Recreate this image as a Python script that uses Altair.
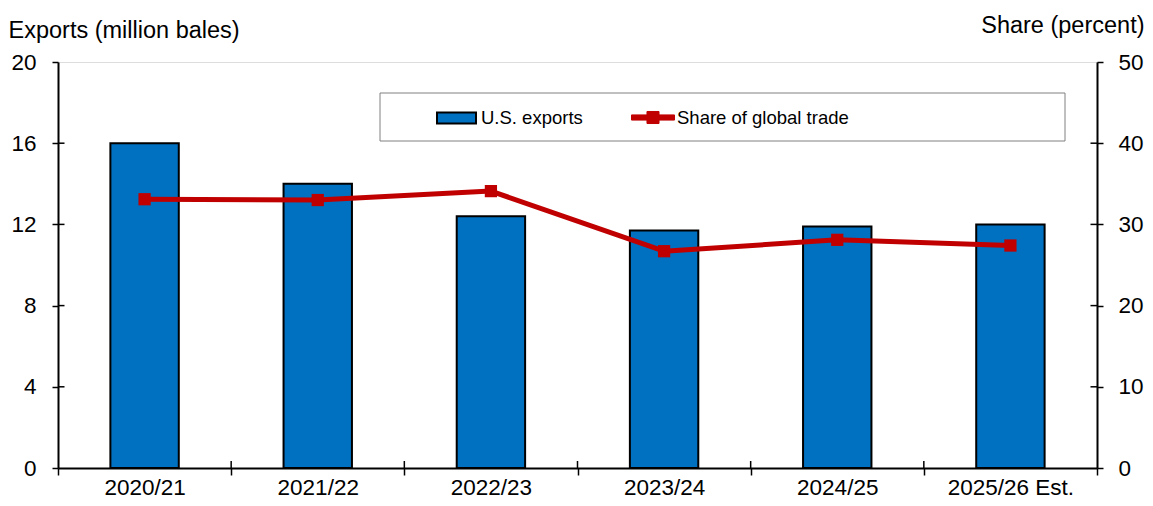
import altair as alt
import pandas as pd

categories = ["2020/21", "2021/22", "2022/23", "2023/24", "2024/25", "2025/26 Est."]
exports = [16.0, 14.0, 12.4, 11.7, 11.9, 12.0]
share = [33.1, 33.0, 34.1, 26.7, 28.1, 27.4]
left_ticks = [0, 4, 8, 12, 16, 20]
right_ticks = [0, 10, 20, 30, 40, 50]
inner_ticks = [4, 8, 12, 16]

BLUE = "#0070C0"
RED = "#C00000"
FONT = "Liberation Sans"

W, H = 1039, 406

df = pd.DataFrame({
    "cat": categories,
    "exports": exports,
    "share": share,
    "s1": ["U.S. exports"] * len(categories),
    "s2": ["Share of global trade"] * len(categories),
})

xscale = alt.Scale(domain=categories, paddingInner=0, paddingOuter=0)
yl = alt.Scale(domain=[0, 20], nice=False, zero=True)
yr = alt.Scale(domain=[0, 50], nice=False, zero=True)

BAR_PATH = "M-1,-0.28H1V0.28H-1Z"
LINE_PATH = "M-1,-0.12H1V0.12H-1Z M-0.28,-0.28H0.28V0.28H-0.28Z"

xaxis = alt.Axis(title=None, labelFont=FONT, labelFontSize=22.5, labelColor="black",
                 tickBand="extent", tickSize=7, tickColor="black", tickWidth=1.5,
                 domainColor="black", domainWidth=2, labelPadding=1, labelAngle=0)

legend_box = alt.Chart(alt.Data(values=[{}])).mark_rect(
    fill="white", stroke="#808080", strokeWidth=1
).encode(x=alt.value(322), x2=alt.value(1007), y=alt.value(31), y2=alt.value(79))

bars = alt.Chart(df).mark_bar(stroke="black", strokeWidth=2, width=alt.RelativeBandSize(0.395)).encode(
    x=alt.X("cat:N", scale=xscale, axis=xaxis, sort=categories),
    y=alt.Y("exports:Q", scale=yl, axis=alt.Axis(
        title="Exports (million bales)", titleAngle=0, titleAlign="left", titleBaseline="alphabetic",
        titleX=-50, titleY=-25, titleFont=FONT, titleFontSize=23.5, titleFontWeight="normal",
        titleColor="black", values=left_ticks, labelFont=FONT, labelFontSize=22.5, labelColor="black",
        tickSize=6, tickColor="black", tickWidth=1.5, domainColor="black", domainWidth=2,
        labelPadding=16, grid=False, orient="left")),
    fill=alt.Fill("s1:N", scale=alt.Scale(domain=["U.S. exports"], range=[BLUE]),
                  legend=alt.Legend(orient="none", legendX=378, legendY=35.5, title=None,
                                    symbolType=BAR_PATH, symbolSize=1521, symbolStrokeColor="black",
                                    symbolStrokeWidth=2, labelFont=FONT, labelFontSize=18.5,
                                    labelColor="black", labelOffset=4, padding=0, labelLimit=400)),
)

ytick_df = pd.DataFrame({"v": inner_ticks})
left_inner = alt.Chart(ytick_df).mark_rule(color="black", strokeWidth=1.5).encode(
    y=alt.Y("v:Q", scale=yl, axis=None), x=alt.value(0), x2=alt.value(6.5))
right_inner = alt.Chart(ytick_df).mark_rule(color="black", strokeWidth=1.5).encode(
    y=alt.Y("v:Q", scale=yl, axis=None), x=alt.value(W - 6.5), x2=alt.value(W))

xtick_df = pd.DataFrame({"cat": categories[1:]})
x_inner = alt.Chart(xtick_df).mark_rule(color="black", strokeWidth=1.5).encode(
    x=alt.X("cat:N", scale=xscale, bandPosition=0),
    y=alt.value(H - 7), y2=alt.value(H))

line = alt.Chart(df).mark_line(strokeWidth=5, strokeJoin="round").encode(
    x=alt.X("cat:N", scale=xscale, sort=categories),
    y=alt.Y("share:Q", scale=yr, axis=alt.Axis(
        orient="right", title="Share (percent)", titleAngle=0, titleAlign="right",
        titleBaseline="alphabetic", titleX=47, titleY=-30, titleFont=FONT, titleFontSize=23.5,
        titleFontWeight="normal", titleColor="black", values=right_ticks, labelFont=FONT,
        labelFontSize=22.5, labelColor="black", tickSize=6, tickColor="black", tickWidth=1.5,
        domainColor="black", domainWidth=2, labelPadding=15, grid=False)),
    stroke=alt.Stroke("s2:N", scale=alt.Scale(domain=["Share of global trade"], range=[RED]),
                      legend=alt.Legend(orient="none", legendX=573, legendY=33.5, title=None,
                                        symbolType=LINE_PATH, symbolSize=1849,
                                        symbolFillColor=RED, symbolStrokeColor=RED,
                                        symbolStrokeWidth=1,
                                        labelFont=FONT, labelFontSize=18.5, labelColor="black",
                                        labelOffset=2, padding=0, labelLimit=400)),
)

points = alt.Chart(df).mark_point(shape="square", filled=True, size=150, color=RED, opacity=1).encode(
    x=alt.X("cat:N", scale=xscale, sort=categories),
    y=alt.Y("share:Q", scale=yr, axis=None),
)

chart = alt.layer(legend_box, bars, left_inner, right_inner, x_inner, line, points).resolve_scale(
    y="independent", fill="independent", stroke="independent"
).properties(
    width=W, height=H,
    autosize=alt.AutoSizeParams(type="none"),
    padding={"left": 50, "top": 54, "right": 48, "bottom": 30},
).configure_view(stroke="black", strokeWidth=2).configure(background="white")

chart.save("out.html", embed_options={"renderer": "svg", "actions": False})
